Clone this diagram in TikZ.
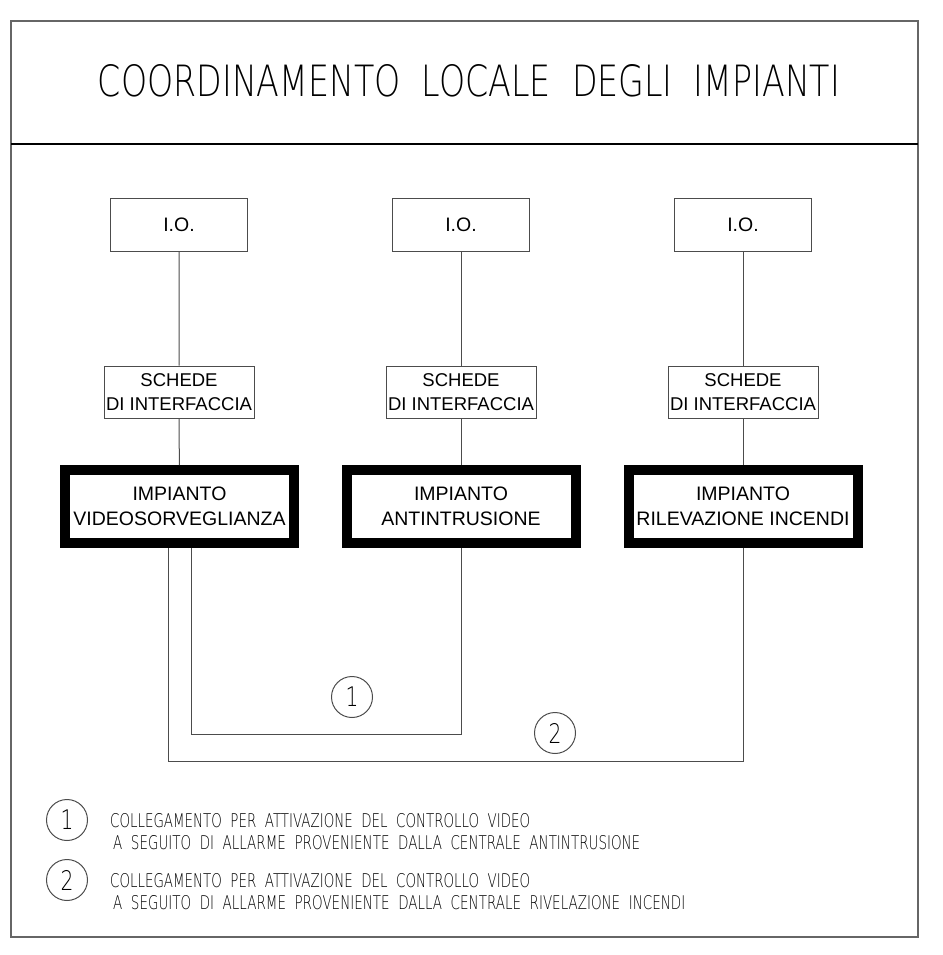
\documentclass[tikz,border=0pt]{standalone}
\usepackage{fontspec}
\setmainfont{Liberation Sans}
\newfontfamily\cadfont{DejaVu Sans ExtraLight}
\usetikzlibrary{positioning}

\colorlet{wire}{black!70}
\tikzset{
  wireline/.style={draw=wire, line width=1pt},
  iobox/.style={draw=wire, line width=1pt, minimum width=137pt, minimum height=53pt,
    font=\fontsize{19.5}{23}\selectfont},
  cardbox/.style={draw=wire, line width=1pt, minimum width=150pt, minimum height=52pt,
    inner sep=0pt, align=center, font=\fontsize{18.5}{24}\selectfont},
  plantbox/.style={draw=black, line width=10pt, minimum width=229pt, minimum height=73pt,
    inner sep=0pt, align=center, font=\fontsize{19.5}{25}\selectfont},
  tag/.style={draw=wire, line width=1pt, circle, minimum size=41pt, inner sep=0pt,
    font=\cadfont\fontsize{27}{27}\selectfont},
  note/.style={anchor=base west, inner sep=0pt}
}

\begin{document}
\begin{tikzpicture}[x=1pt, y=-1pt]
    \useasboundingbox (0,0) rectangle (942,955);
    \draw [draw=black!60, line width=1.4pt] (11,21) rectangle (918,937);
    \draw [line width=1.2pt] (11,144) -- (918,144);

    \node [anchor=base, inner sep=0pt] (title) at (469,97)
      {\resizebox{742pt}{32pt}{\cadfont COORDINAMENTO\ \ LOCALE\ \ DEGLI\ \ IMPIANTI}};

    % colonne
    \node [iobox] (io1) at (179,224.5) {I.O.};
    \node [iobox] (io2) at (461,224.5) {I.O.};
    \node [iobox] (io3) at (743,224.5) {I.O.};

    \node [cardbox] (card1) at (179,392) {SCHEDE\\DI INTERFACCIA};
    \node [cardbox] (card2) at (461,392) {SCHEDE\\DI INTERFACCIA};
    \node [cardbox] (card3) at (743,392) {SCHEDE\\DI INTERFACCIA};

    \node [plantbox] (plant1) at (179.5,506.5) {IMPIANTO\\VIDEOSORVEGLIANZA};
    \node [plantbox] (plant2) at (461,506.5) {IMPIANTO\\ANTINTRUSIONE};
    \node [plantbox] (plant3) at (743,506.5) {IMPIANTO\\RILEVAZIONE INCENDI};

    \draw [wireline] (io1) -- (card1) -- (plant1);
    \draw [wireline] (io2) -- (card2) -- (plant2);
    \draw [wireline] (io3) -- (card3) -- (plant3);

    % collegamenti
    \draw [wireline] ([xshift=11.5pt]plant1.south) -- ++(0,186) -| (plant2.south);
    \draw [wireline] ([xshift=-11.5pt]plant1.south) -- ++(0,213) -| (plant3.south);

    \node [tag] (tag1) at (352,697) {\scalebox{.75}[1]{1}};
    \node [tag] (tag2) at (555,733) {\scalebox{.75}[1]{2}};

    % legenda
    \node [tag] (key1) at (67,820) {\scalebox{.75}[1]{1}};
    \node [tag] (key2) at (67,880) {\scalebox{.75}[1]{2}};

    \node [note] (note1a) at (110,827)
      {\resizebox{420pt}{14pt}{\cadfont COLLEGAMENTO\ \ PER\ \ ATTIVAZIONE\ \ DEL\ \ CONTROLLO\ \ VIDEO}};
    \node [note] (note1b) at (113,849)
      {\resizebox{527pt}{14pt}{\cadfont A\ \ SEGUITO\ \ DI\ \ ALLARME\ \ PROVENIENTE\ \ DALLA\ \ CENTRALE\ \ ANTINTRUSIONE}};
    \node [note] (note2a) at (110,887)
      {\resizebox{420pt}{14pt}{\cadfont COLLEGAMENTO\ \ PER\ \ ATTIVAZIONE\ \ DEL\ \ CONTROLLO\ \ VIDEO}};
    \node [note] (note2b) at (113,909)
      {\resizebox{572pt}{14pt}{\cadfont A\ \ SEGUITO\ \ DI\ \ ALLARME\ \ PROVENIENTE\ \ DALLA\ \ CENTRALE\ \ RIVELAZIONE\ \ INCENDI}};
\end{tikzpicture}
\end{document}
